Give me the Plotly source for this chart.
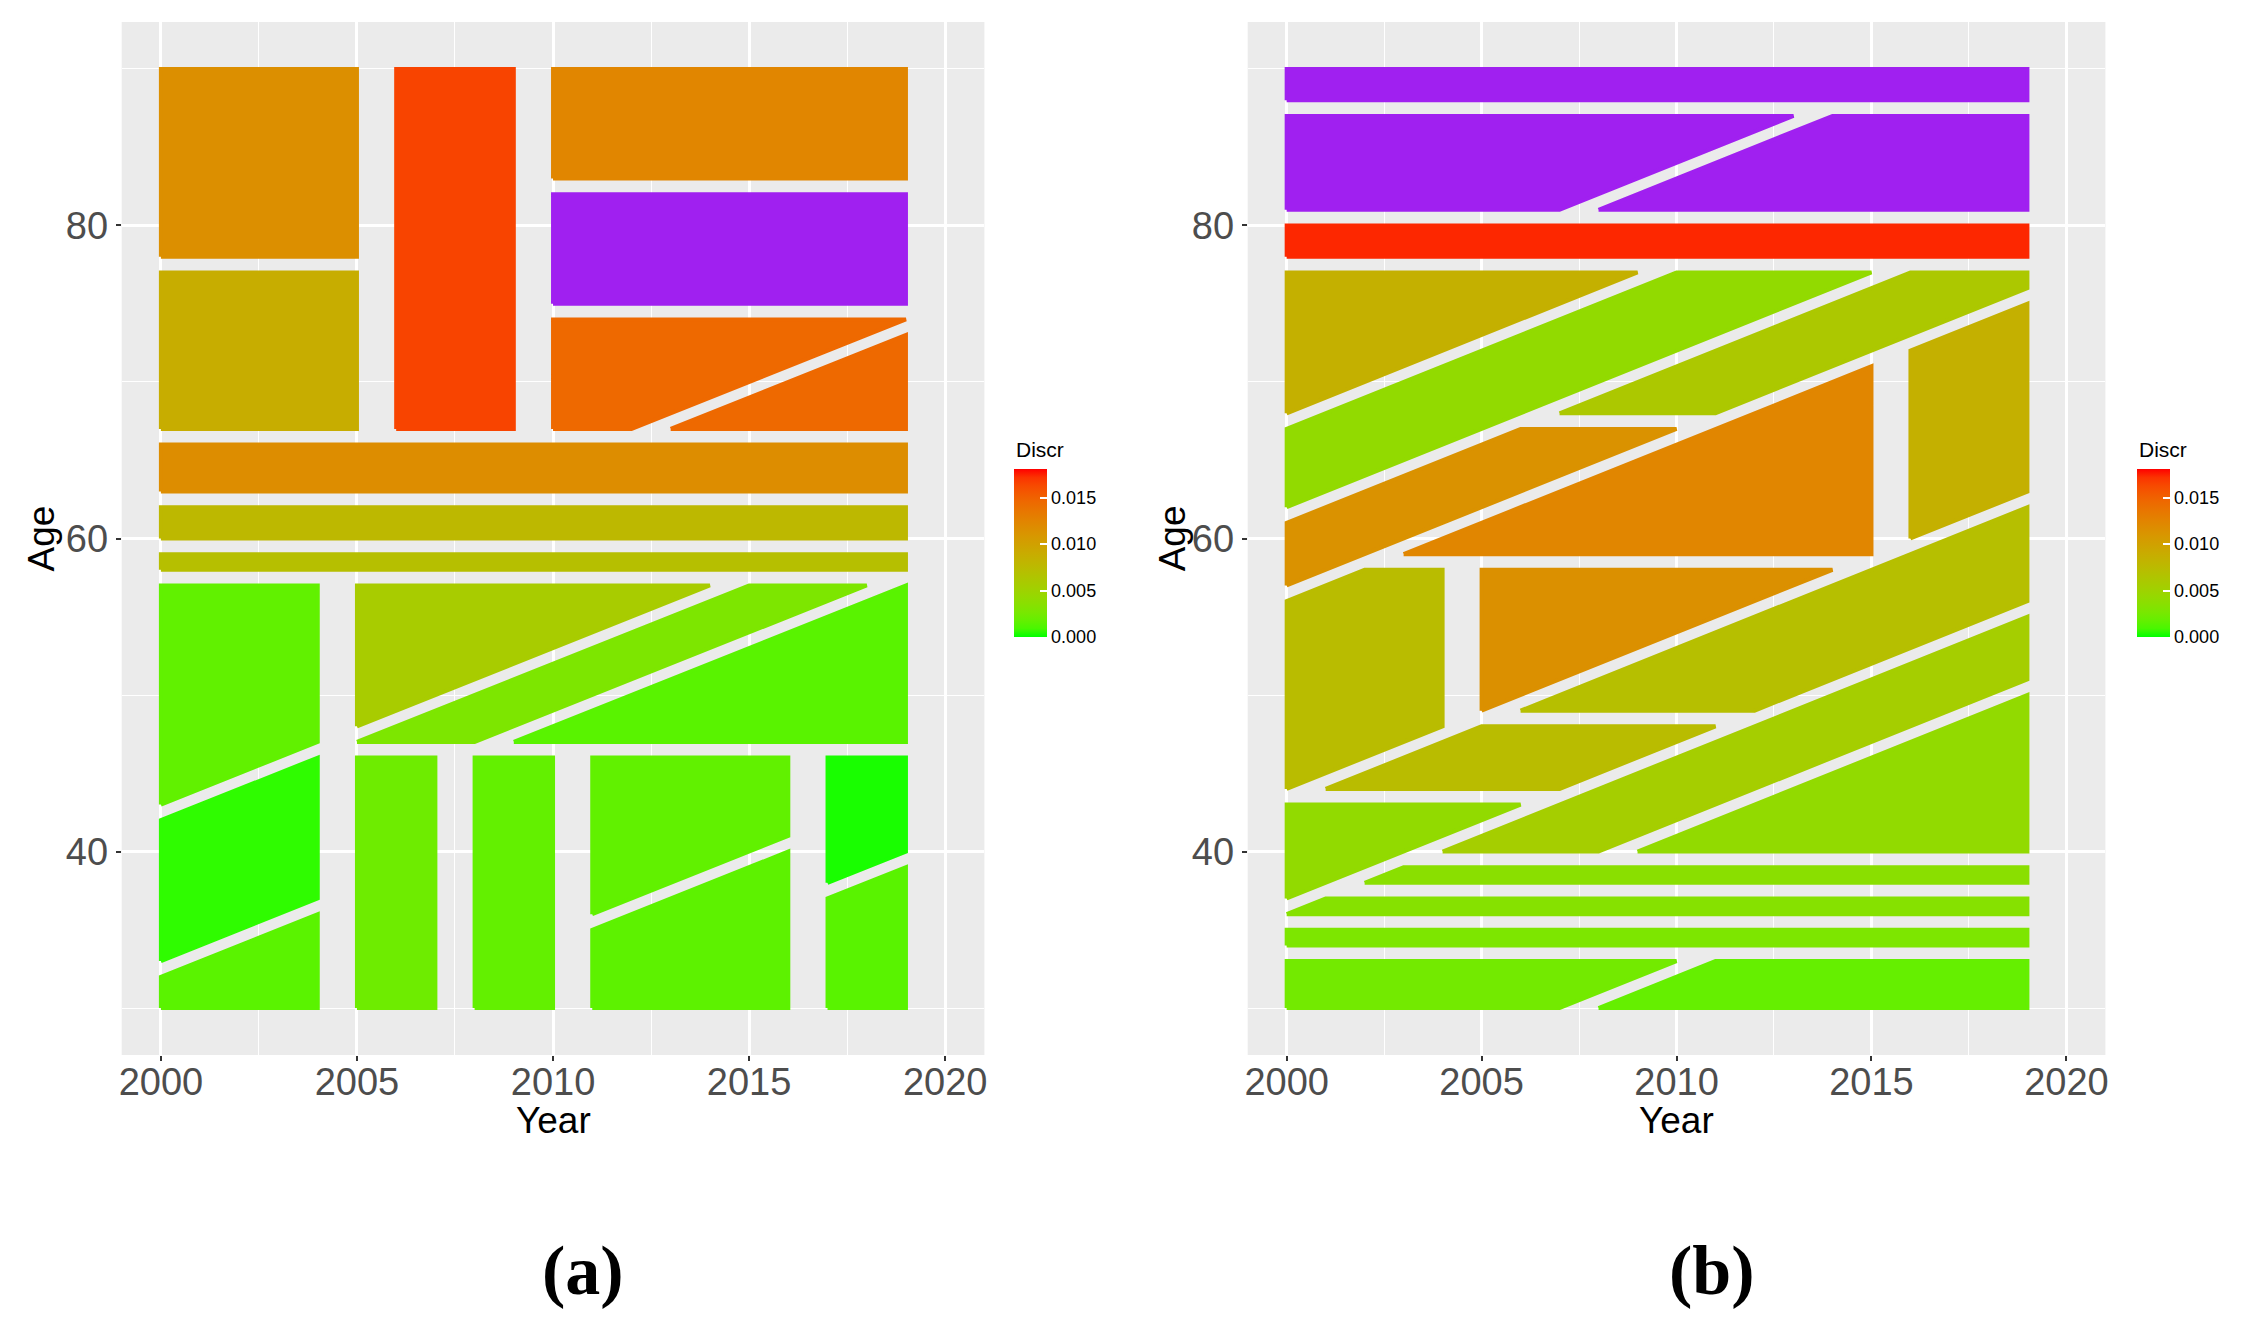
import numpy as np
import plotly.graph_objects as go

DISCR_MAX = 0.0181
NA_COLOUR = '#A020F0'

# Panel (a): every cell of the partition is a polygon of (Year, Age) corners plus its Discr value
# (None = no value, drawn in purple like na.value in the original)
a_years = [
    [2000, 2005, 2005, 2000],
    [2000, 2005, 2005, 2000],
    [2006, 2009, 2009, 2006],
    [2010, 2019, 2019, 2010],
    [2010, 2019, 2019, 2010],
    [2010, 2012, 2019, 2010],
    [2013, 2019, 2019],
    [2000, 2019, 2019, 2000],
    [2000, 2019, 2019, 2000],
    [2000, 2019, 2019, 2000],
    [2000, 2004, 2004, 2000],
    [2000, 2004, 2004, 2000],
    [2000, 2004, 2004, 2000],
    [2005, 2005, 2014],
    [2005, 2008, 2018, 2015],
    [2009, 2019, 2019],
    [2005, 2007, 2007, 2005],
    [2008, 2010, 2010, 2008],
    [2011, 2016, 2016, 2011],
    [2011, 2016, 2016, 2011],
    [2017, 2019, 2019, 2017],
    [2017, 2019, 2019, 2017],
]
a_ages = [
    [78, 78, 90, 90],
    [67, 67, 77, 77],
    [67, 67, 90, 90],
    [83, 83, 90, 90],
    [75, 75, 82, 82],
    [67, 67, 74, 74],
    [67, 67, 73],
    [63, 63, 66, 66],
    [60, 60, 62, 62],
    [58, 58, 59, 59],
    [43, 47, 57, 57],
    [33, 37, 46, 42],
    [30, 30, 36, 32],
    [48, 57, 57],
    [47, 47, 57, 57],
    [47, 47, 57],
    [30, 30, 46, 46],
    [30, 30, 46, 46],
    [36, 41, 46, 46],
    [30, 30, 40, 35],
    [38, 40, 46, 46],
    [30, 30, 39, 37],
]
a_discr = [
    0.01164, 0.00883, 0.01656, 0.01233, None, 0.01455, 0.01455, 0.01175, 0.00776, 0.00706,
    0.00165, 0.00038, 0.00139, 0.00574, 0.00290, 0.00136, 0.00217, 0.00172, 0.00165, 0.00152,
    0.00013, 0.00136,
]

# Panel (b)
b_years = [
    [2000, 2019, 2019, 2000],
    [2000, 2007, 2013, 2000],
    [2008, 2019, 2019, 2014],
    [2000, 2019, 2019, 2000],
    [2000, 2009, 2000],
    [2000, 2015, 2010, 2000],
    [2007, 2011, 2019, 2019, 2016],
    [2000, 2010, 2006, 2000],
    [2003, 2015, 2015],
    [2016, 2019, 2019, 2016],
    [2000, 2004, 2004, 2002, 2000],
    [2005, 2014, 2005],
    [2006, 2012, 2019, 2019],
    [2001, 2007, 2011, 2005],
    [2000, 2006, 2000],
    [2004, 2008, 2019, 2019],
    [2009, 2019, 2019],
    [2002, 2019, 2019, 2003],
    [2000, 2019, 2019, 2001],
    [2000, 2019, 2019, 2000],
    [2000, 2007, 2010, 2000],
    [2008, 2019, 2019, 2011],
]
b_ages = [
    [88, 88, 90, 90],
    [81, 81, 87, 87],
    [81, 81, 87, 87],
    [78, 78, 80, 80],
    [68, 77, 77],
    [62, 77, 77, 67],
    [68, 68, 76, 77, 77],
    [57, 67, 67, 61],
    [59, 59, 71],
    [60, 63, 75, 72],
    [44, 48, 58, 58, 56],
    [49, 58, 58],
    [49, 49, 56, 62],
    [44, 44, 48, 48],
    [37, 43, 43],
    [40, 40, 51, 55],
    [40, 40, 50],
    [38, 38, 39, 39],
    [36, 36, 37, 37],
    [34, 34, 35, 35],
    [30, 30, 33, 33],
    [30, 30, 33, 33],
]
b_discr = [
    None, None, None, 0.01754, 0.00854, 0.00413, 0.00612, 0.01138, 0.01233, 0.00854,
    0.00731, 0.01151, 0.00706, 0.00731, 0.00413, 0.00550, 0.00413, 0.00364, 0.00340, 0.00290,
    0.00239, 0.00179,
]

colorbar_ticks = [0.0, 0.005, 0.010, 0.015]


# scale_fill_gradient(low='green', high='red') interpolates in CIELAB
_M = np.array([[0.4124, 0.3576, 0.1805], [0.2126, 0.7152, 0.0722], [0.0193, 0.1192, 0.9505]])
_WP = np.array([0.95047, 1.0, 1.08883])


def rgb_to_lab(rgb):
    c = np.array(rgb, float) / 255.0
    c = np.where(c <= 0.04045, c / 12.92, ((c + 0.055) / 1.055) ** 2.4)
    xyz = _M @ c / _WP
    f = np.where(xyz > 0.008856, np.cbrt(xyz), 7.787 * xyz + 16 / 116)
    return np.array([116 * f[1] - 16, 500 * (f[0] - f[1]), 200 * (f[1] - f[2])])


def lab_to_hex(lab):
    fy = (lab[0] + 16) / 116
    f = np.array([fy + lab[1] / 500, fy, fy - lab[2] / 200])
    xyz = np.where(f ** 3 > 0.008856, f ** 3, (f - 16 / 116) / 7.787) * _WP
    c = np.clip(np.linalg.inv(_M) @ xyz, 0, 1)
    c = np.where(c <= 0.0031308, 12.92 * c, 1.055 * c ** (1 / 2.4) - 0.055)
    r, g, b = np.clip(np.round(c * 255), 0, 255).astype(int)
    return '#%02X%02X%02X' % (r, g, b)


LAB_LOW = rgb_to_lab([0, 255, 0])
LAB_HIGH = rgb_to_lab([255, 0, 0])


def discr_colour(v):
    if v is None:
        return NA_COLOUR
    t = min(max(v / DISCR_MAX, 0.0), 1.0)
    return lab_to_hex(LAB_LOW + (LAB_HIGH - LAB_LOW) * t)


colorscale = [[t, lab_to_hex(LAB_LOW + (LAB_HIGH - LAB_LOW) * t)] for t in np.linspace(0, 1, 21)]

W, H = 2252, 1332
SANS = 'Liberation Sans, Arial, sans-serif'
TICK_FONT = dict(family=SANS, size=38, color='#4D4D4D')
TITLE_FONT = dict(family=SANS, size=37, color='black')
PANEL_TOP, PANEL_BOTTOM = 22, 1055

fig = go.Figure()


def add_panel(years, ages, discr, xa, ya, cb_left, panel_left, panel_right, age_x):
    for xs, ys, v in zip(years, ages, discr):
        col = discr_colour(v)
        fig.add_trace(go.Scatter(
            x=xs + xs[:1], y=ys + ys[:1], xaxis=xa, yaxis=ya,
            mode='lines', fill='toself', fillcolor=col,
            line=dict(color=col, width=4),
            hoverinfo='skip', showlegend=False,
        ))
    # dummy trace that only carries the Discr colour bar
    fig.add_trace(go.Scatter(
        x=[None], y=[None], xaxis=xa, yaxis=ya, mode='markers', showlegend=False,
        marker=dict(
            color=[0.0], cmin=0, cmax=DISCR_MAX, colorscale=colorscale, showscale=True,
            colorbar=dict(
                x=cb_left / W, xanchor='left', y=1 - 553 / H, yanchor='middle',
                lenmode='pixels', len=168, thicknessmode='pixels', thickness=33,
                xpad=0, ypad=0, outlinewidth=0,
                tickvals=colorbar_ticks, ticktext=['%.3f' % t for t in colorbar_ticks],
                ticks='inside', ticklen=7, tickwidth=1.5, tickcolor='white',
                tickfont=dict(family=SANS, size=18, color='black'),
            ),
        ),
    ))
    fig.add_annotation(
        x=cb_left / W, y=1 - 436 / H, xref='paper', yref='paper', xanchor='left', yanchor='top',
        text='Discr', showarrow=False, font=dict(family=SANS, size=21, color='black'),
    )
    # axis titles
    fig.add_annotation(
        x=(panel_left + panel_right) / 2 / W, y=1 - 1120 / H, xref='paper', yref='paper',
        xanchor='center', yanchor='middle', text='Year', showarrow=False, font=TITLE_FONT,
    )
    fig.add_annotation(
        x=age_x / W, y=1 - (PANEL_TOP + PANEL_BOTTOM) / 2 / H, xref='paper', yref='paper',
        xanchor='center', yanchor='middle', text='Age', textangle=-90, showarrow=False,
        font=TITLE_FONT,
    )


add_panel(a_years, a_ages, a_discr, 'x', 'y', 1014, 119, 984, 39)
add_panel(b_years, b_ages, b_discr, 'x2', 'y2', 2140, 1248, 2108, 1173)

xaxis_style = dict(
    range=[1999, 2021], tick0=2000, dtick=5, showgrid=True, gridcolor='white', gridwidth=2.5,
    minor=dict(dtick=2.5, tick0=2000, showgrid=True, gridcolor='white', gridwidth=1.2),
    ticks='outside', ticklen=5, tickwidth=2, tickcolor='#333333',
    tickfont=TICK_FONT, ticklabelstandoff=-12, zeroline=False, showline=False,
)
yaxis_style = dict(
    range=[27, 93], tick0=0, dtick=20, showgrid=True, gridcolor='white', gridwidth=2.5,
    minor=dict(dtick=10, tick0=0, showgrid=True, gridcolor='white', gridwidth=1.2),
    ticks='outside', ticklen=5, tickwidth=2, tickcolor='#333333',
    tickfont=TICK_FONT, zeroline=False, showline=False,
    domain=[1 - PANEL_BOTTOM / H, 1 - PANEL_TOP / H],
)

fig.update_layout(
    width=W, height=H, autosize=False,
    margin=dict(l=0, r=0, t=0, b=0),
    paper_bgcolor='white', plot_bgcolor='#EBEBEB',
    xaxis=dict(xaxis_style, domain=[119 / W, 984 / W], anchor='y'),
    yaxis=dict(yaxis_style, anchor='x'),
    xaxis2=dict(xaxis_style, domain=[1248 / W, 2108 / W], anchor='y2'),
    yaxis2=dict(yaxis_style, anchor='x2'),
)

for label, cx in [('(a)', 582), ('(b)', 1714)]:
    fig.add_annotation(
        x=cx / W, y=1 - 1270 / H, xref='paper', yref='paper', xanchor='center', yanchor='middle',
        text='<b>%s</b>' % label, showarrow=False,
        font=dict(family='Liberation Serif, Times New Roman, serif', size=70, color='black'),
    )

# drop the browser's default body margin so the figure sits at the page origin
fig.write_html('out.html', config={'displayModeBar': False},
               post_script="document.body.style.margin='0px';")
